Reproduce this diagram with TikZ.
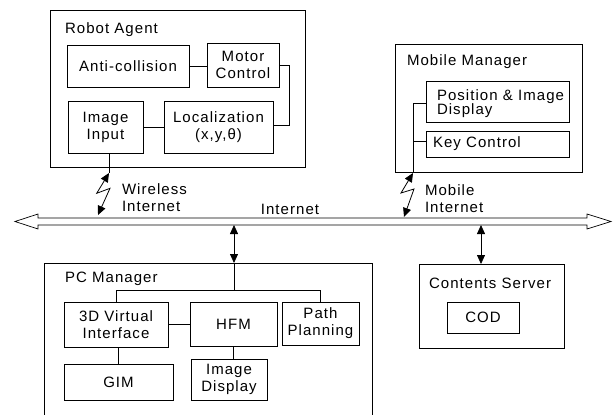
\documentclass[tikz,border=0pt]{standalone}
\usepackage{fontspec}
\setmainfont{Liberation Sans}[LetterSpace=7]
\usetikzlibrary{arrows.meta,calc}
\newcommand{\fsz}{\fontsize{15}{17}\selectfont}
\tikzset{
  box/.style={draw, inner sep=0pt, outer sep=0pt, align=center, font=\fsz},
  titletext/.style={anchor=west, inner sep=0pt, outer sep=0pt, font=\fsz, align=left},
  tipboth/.style={{Triangle[length=9pt,width=8pt]}-{Triangle[length=9pt,width=8pt]}},
}
\begin{document}
\begin{tikzpicture}[x=1pt,y=-1pt,line width=0.8pt]
\useasboundingbox (0,0) rectangle (614,415);

% Robot Agent
\node[box, minimum width=255pt, minimum height=157pt] (robot) at (177.5,88.5) {};
\node[titletext] (robott) at (65,30) {Robot Agent};
\node[box, minimum width=122pt, minimum height=42pt] (anti) at (128,66) {Anti-collision};
\node[box, minimum width=72pt, minimum height=44pt] (motor) at (243,65) {Motor\\Control};
\node[box, minimum width=75pt, minimum height=52pt] (img) at (105.5,127) {Image\\Input};
\node[box, minimum width=109pt, minimum height=52pt] (loc) at (218.5,127) {Localization\\(x,y,θ)};
\draw (anti.east) -- (anti.east -| motor.west);
\draw (img.east) -- (loc.west);
\draw (motor.east) -- ++(10,0) |- ($(loc.east)+(0,-2)$);

% Mobile Manager
\node[box, minimum width=187pt, minimum height=128pt] (mobile) at (488.5,108) {};
\node[titletext] (mobilet) at (407,62) {Mobile Manager};
\node[box, minimum width=143pt, minimum height=41pt] (pos) at (497.5,101.5) {};
\node[titletext, font=\fontsize{15}{14}\selectfont] (post) at (437,104) {Position \& Image\\Display};
\node[box, minimum width=143pt, minimum height=26pt] (key) at (497.5,144) {};
\node[titletext] (keyt) at (433,144) {Key Control};
\coordinate (m1) at (413,173);
\coordinate (m2) at (401,193);
\coordinate (m3) at (414,189);
\coordinate (m4) at (404,217);
\draw ($(pos.west)+(0,1.5)$) -| (m1);
\draw ($(key.west)+(0,-3)$) -- ++(-13,0);

% Wireless link
\coordinate (w1) at (109,173);
\coordinate (w2) at (96.7,193.3);
\coordinate (w3) at (110,188.3);
\coordinate (w4) at (98,215);
\draw (img.south -| w1) -- (w1);
\draw[tipboth] (w1) -- (w2) -- (w3) -- (w4);
\draw[tipboth] (m1) -- (m2) -- (m3) -- (m4);
\node[titletext] (wlt) at (122,197.5) {Wireless\\Internet};
\node[titletext] (mlt) at (425,198.5) {Mobile\\Internet};

% Internet double arrow
\draw[line width=0.7pt, fill=white] (15,221.5) -- (38,214) -- (38,218) -- (587,218) -- (587,214)
  -- (611,221.5) -- (587,229) -- (587,225) -- (38,225) -- (38,229) -- cycle;
\node[inner sep=0pt, font=\fsz] (inet) at (290,209) {Internet};

% PC Manager
\node[inner sep=0pt, outer sep=0pt, minimum width=328pt, minimum height=152pt] (pc) at (208,339) {};
\draw (pc.south west) -- (pc.north west) -- (pc.north east) -- (pc.south east);
\node[titletext] (pct) at (65,279) {PC Manager};
\node[box, minimum width=104pt, minimum height=45pt] (v3d) at (116,324.5) {3D Virtual\\Interface};
\node[box, minimum width=87pt, minimum height=44pt] (hfm) at (233.5,324) {HFM};
\node[box, minimum width=77pt, minimum height=43pt] (path) at (320.5,323.5) {Path\\Planning};
\node[box, minimum width=109pt, minimum height=36pt] (gim) at (118.5,382) {GIM};
\node[box, minimum width=76pt, minimum height=41pt] (imd) at (229,379.5) {Image\\Display};
\coordinate (netpc) at (234,225);
\coordinate (j) at (234,290);
\draw[tipboth] (netpc) -- (netpc |- pc.north);
\draw (pc.north -| j) -- (j);
\draw (v3d.north) -- ++(0,-12) -| (path.north);
\draw (v3d.east) -- (v3d.east -| hfm.west);
\draw (gim.north |- v3d.south) -- (gim.north);
\draw (hfm.south) -- (hfm.south |- imd.north);

% Contents Server
\node[box, minimum width=145pt, minimum height=84pt] (cs) at (491.5,306) {};
\node[titletext] (cst) at (429,283) {Contents Server};
\node[box, minimum width=72pt, minimum height=31pt] (cod) at (483,317.5) {COD};
\coordinate (netcs) at (481,225);
\draw[tipboth] (netcs) -- (netcs |- cs.north);
\end{tikzpicture}
\end{document}
